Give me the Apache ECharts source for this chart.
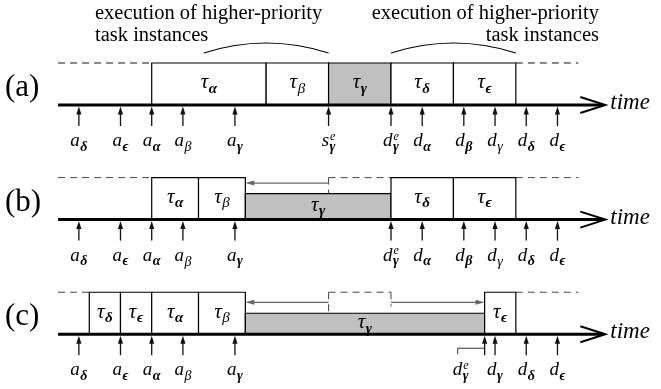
<!DOCTYPE html>
<html><head><meta charset="utf-8">
<script src="https://cdn.jsdelivr.net/npm/echarts@6/dist/echarts.min.js"></script>
<style>html,body{margin:0;padding:0;background:#fff}#c{width:661px;height:389px}</style>
</head><body><div id="c"></div>
<script>
// ================= DATA (time units) =================
const rowNames = ['(a)', '(b)', '(c)'];
const shadedTask = 'γ';

// executed task instances per row: start, end, task (* = bold subscript), relative rate (height)
const blockStartA = [7, 18, 24, 30, 36];
const blockEndA   = [18, 24, 30, 36, 42];
const blockTaskA  = ['*α', 'β', '*γ', '*δ', '*ϵ'];
const blockRateA  = [1, 1, 1, 1, 1];

const blockStartB = [7, 11.5, 16, 30, 36];
const blockEndB   = [11.5, 16, 30, 36, 42];
const blockTaskB  = ['*α', 'β', '*γ', '*δ', '*ϵ'];
const blockRateB  = [1, 1, 0.62, 1, 1];

const blockStartC = [1, 4, 7, 11.5, 16, 39];
const blockEndC   = [4, 7, 11.5, 16, 39, 42];
const blockTaskC  = ['*δ', '*ϵ', '*α', 'β', '*γ', '*ϵ'];
const blockRateC  = [1, 1, 1, 1, 0.5, 1];

// arrival / deadline events per row
const eventTimeA  = [0, 4, 7, 10, 15, 24, 30, 33, 37, 40, 43, 46];
const eventLabelA = ['a_*δ', 'a_*ϵ', 'a_*α', 'a_β', 'a_*γ', 's^e_*γ', 'd^e_*γ', 'd_*α', 'd_*β', 'd_γ', 'd_*δ', 'd_*ϵ'];
const eventTimeB  = [0, 4, 7, 10, 15, 30, 33, 37, 40, 43, 46];
const eventLabelB = ['a_*δ', 'a_*ϵ', 'a_*α', 'a_β', 'a_*γ', 'd^e_*γ', 'd_*α', 'd_*β', 'd_γ', 'd_*δ', 'd_*ϵ'];
const eventTimeC  = [0, 4, 7, 10, 15, 39, 40, 43, 46];
const eventLabelC = ['a_*δ', 'a_*ϵ', 'a_*α', 'a_β', 'a_*γ', 'd^e_*γ', 'd_*γ', 'd_*δ', 'd_*ϵ'];

// idle / reserved intervals (dashed) per row
const dashedA = [[-2, 7], [42, 48]];
const dashedB = [[-2, 7], [24, 30], [42, 48]];
const dashedC = [[-2, 1], [24, 30], [42, 48]];

// displacement arrows [from, to] per row
const shiftA = [];
const shiftB = [[24, 16]];
const shiftC = [[24, 16], [30, 39]];

// "execution of higher-priority task instances" arcs (time spans)
const arcSpans = [[12, 24], [30, 42]];
const annotLines = ['execution of higher-priority', 'task instances'];

// ================= LAYOUT =================
const XMIN = -7.581, XMAX = 55.952;
const YMIN = -2.5, YMAX = 6.762;
const ROWGAP = 2.729;
const SHIFT_LEVEL = [0, 0.87, 0.76];
const AXIS_START = -2, AXIS_END = 50.6;
const LEADER = { row: 2, label: 'd^e_*γ', dt: -2.3 };
const FONT = '"Liberation Serif","Times New Roman","DejaVu Serif",serif';
const K = 0.34;

const rows = [
  { start: blockStartA, end: blockEndA, task: blockTaskA, rate: blockRateA, evT: eventTimeA, evL: eventLabelA, dashed: dashedA, shift: shiftA },
  { start: blockStartB, end: blockEndB, task: blockTaskB, rate: blockRateB, evT: eventTimeB, evL: eventLabelB, dashed: dashedB, shift: shiftB },
  { start: blockStartC, end: blockEndC, task: blockTaskC, rate: blockRateC, evT: eventTimeC, evL: eventLabelC, dashed: dashedC, shift: shiftC }
];

const mctx = document.createElement('canvas').getContext('2d');
function textW(s, font) { mctx.font = font; return mctx.measureText(s).width; }
function txt(text, x, y, font, align) {
  align = align || 'left';
  return { type: 'text', style: { text, x, y, font, fill: '#000', align, textAlign: align, verticalAlign: 'middle', textVerticalAlign: 'middle' } };
}
function mathLabel(str, cx, baseY, s) {
  const m = str.match(/^(.)(?:\^(.))?(?:_(\*?)(.))?$/);
  const base = m[1], sup = m[2] || '', subBold = m[3] === '*', sub = m[4] || '';
  const fMain = `italic ${s.main}px ${FONT}`;
  const fSup = `italic ${s.sup}px ${FONT}`;
  const fSub = `${subBold ? 'bold ' : ''}italic ${s.sub}px ${FONT}`;
  const wMain = textW(base, fMain);
  const wSup = sup ? textW(sup, fSup) : 0;
  const wSub = sub ? textW(sub, fSub) : 0;
  const total = wMain + 0.5 + Math.max(wSup, wSub);
  const x0 = cx - total / 2;
  const els = [txt(base, x0, baseY - K * s.main, fMain)];
  if (sup) els.push(txt(sup, x0 + wMain + 1, baseY - s.rise - K * s.sup, fSup));
  if (sub) els.push(txt(sub, x0 + wMain + 0.5, baseY + s.drop - K * s.sub, fSub));
  return els;
}
const EV_SIZE = { main: 19, sup: 12, sub: 14, rise: 7, drop: 4.5 };
const TAU_SIZE = { main: 21, sup: 11, sub: 15, rise: 6, drop: 4 };

function renderRow(params, api) {
  const r = params.dataIndex;
  const R = rows[r];
  const P = (t, lvl) => api.coord([t, r * ROWGAP - lvl]);
  const base = P(0, 0)[1];
  const ch = [];
  // blocks
  R.start.forEach((s, i) => {
    const p0 = P(s, R.rate[i]), p1 = P(R.end[i], 0);
    const shaded = R.task[i].indexOf(shadedTask) >= 0;
    ch.push({ type: 'rect', shape: { x: p0[0], y: p0[1], width: p1[0] - p0[0], height: p1[1] - p0[1] },
      style: { fill: shaded ? '#c0c0c0' : '#fff', stroke: '#000', lineWidth: 1.2 } });
  });
  R.start.forEach((s, i) => {
    const p0 = P(s, R.rate[i]), p1 = P(R.end[i], 0);
    const cy = (p0[1] + p1[1]) / 2;
    ch.push(...mathLabel('τ_' + R.task[i], (p0[0] + p1[0]) / 2, cy + 6, TAU_SIZE));
  });
  // dashed (idle / reserved) segments
  const dash = { stroke: r === 0 ? '#111' : '#444', lineWidth: 1, lineDash: [7, 5], fill: null };
  R.dashed.forEach(([a, b], k) => {
    const pa = P(a, 1), pb = P(b, 1);
    ch.push({ type: 'line', shape: { x1: pa[0], y1: pa[1], x2: pb[0], y2: pb[1] }, style: dash });
    const interior = k > 0 && k < R.dashed.length - 1;
    if (interior) {
      const idx = R.task.findIndex(t => t.indexOf(shadedTask) >= 0);
      const lv = R.rate[idx];
      const q = P(a, lv);
      ch.push({ type: 'line', shape: { x1: pa[0], y1: pa[1], x2: q[0], y2: q[1] }, style: dash });
      if (R.start.indexOf(b) < 0) {
        const q2 = P(b, SHIFT_LEVEL[r]);
        ch.push({ type: 'line', shape: { x1: pb[0], y1: pb[1], x2: q2[0], y2: q2[1] + 4 }, style: dash });
      }
    }
  });
  // displacement arrows
  R.shift.forEach(([a, b]) => {
    const pa = P(a, SHIFT_LEVEL[r]), pb = P(b, SHIFT_LEVEL[r]);
    const dir = Math.sign(pb[0] - pa[0]);
    ch.push({ type: 'line', shape: { x1: pa[0], y1: pa[1], x2: pb[0] - dir * 5, y2: pb[1] }, style: { stroke: '#666', lineWidth: 1.3 } });
    ch.push({ type: 'polygon', shape: { points: [[pb[0], pb[1]], [pb[0] - dir * 9, pb[1] - 2.5], [pb[0] - dir * 9, pb[1] + 2.5]] }, style: { fill: '#666' } });
  });
  // time axis
  const s0 = P(AXIS_START, 0), tip = P(AXIS_END, 0);
  ch.push({ type: 'line', shape: { x1: s0[0], y1: s0[1], x2: tip[0] - 2, y2: tip[1] }, style: { stroke: '#000', lineWidth: 3 } });
  ch.push({ type: 'polyline', shape: { points: [[tip[0] - 25, tip[1] - 8], [tip[0], tip[1]], [tip[0] - 25, tip[1] + 8]] }, style: { stroke: '#000', lineWidth: 2, fill: null } });
  ch.push(txt('time', tip[0] + 5, base - 2, `italic 23px ${FONT}`));
  // row label
  ch.push(txt(rowNames[r], 5, base - 17, `31px ${FONT}`));
  // events
  R.evT.forEach((t, i) => {
    const x = P(t, 0)[0];
    ch.push({ type: 'line', shape: { x1: x, y1: base + 6, x2: x, y2: base + 21 }, style: { stroke: '#111', lineWidth: 1.3 } });
    ch.push({ type: 'polygon', shape: { points: [[x, base + 1.5], [x - 2.6, base + 9.5], [x + 2.6, base + 9.5]] }, style: { fill: '#111' } });
    let cx = x;
    if (r === LEADER.row && R.evL[i] === LEADER.label) {
      cx = P(t + LEADER.dt, 0)[0];
      ch.push({ type: 'polyline', shape: { points: [[cx - 3, base + 20], [cx - 3, base + 14], [x, base + 14]] }, style: { stroke: '#333', lineWidth: 1, fill: null } });
    }
    ch.push(...mathLabel(R.evL[i], cx, base + 42.5, EV_SIZE));
  });
  return { type: 'group', children: ch };
}

function renderArcs(params, api) {
  const [a, b] = arcSpans[params.dataIndex];
  const pa = api.coord([a, -1]), pb = api.coord([b, -1]);
  const y = pa[1] - 10;
  return { type: 'bezierCurve', shape: { x1: pa[0], y1: y, x2: pb[0], y2: y, cpx1: (pa[0] + pb[0]) / 2, cpy1: y - 20 },
    style: { stroke: '#000', lineWidth: 1.2, fill: null } };
}

const AF = `20.5px ${FONT}`;
function annot(text, x, y, align) {
  return { type: 'text', x, y, style: { text, font: AF, fill: '#000', align, textAlign: align, verticalAlign: 'middle', textVerticalAlign: 'middle' } };
}

const chart = echarts.init(document.getElementById('c'), null, { renderer: 'canvas' });
chart.setOption({
  animation: false,
  backgroundColor: '#fff',
  grid: { left: 0, right: 0, top: 0, bottom: 0, containLabel: false },
  xAxis: { type: 'value', min: XMIN, max: XMAX, show: false },
  yAxis: { type: 'value', min: YMIN, max: YMAX, inverse: true, show: false },
  graphic: [
    annot(annotLines[0], 95, 14, 'left'),
    annot(annotLines[1], 95, 36, 'left'),
    annot(annotLines[0], 599, 14, 'right'),
    annot(annotLines[1], 599, 36, 'right')
  ],
  series: [
    { type: 'custom', clip: false, silent: true, renderItem: renderRow, data: rowNames.map((n, i) => [0, i * ROWGAP]) },
    { type: 'custom', clip: false, silent: true, renderItem: renderArcs, data: arcSpans.map(s => [s[0], 0]) }
  ]
});
</script>
</body></html>
